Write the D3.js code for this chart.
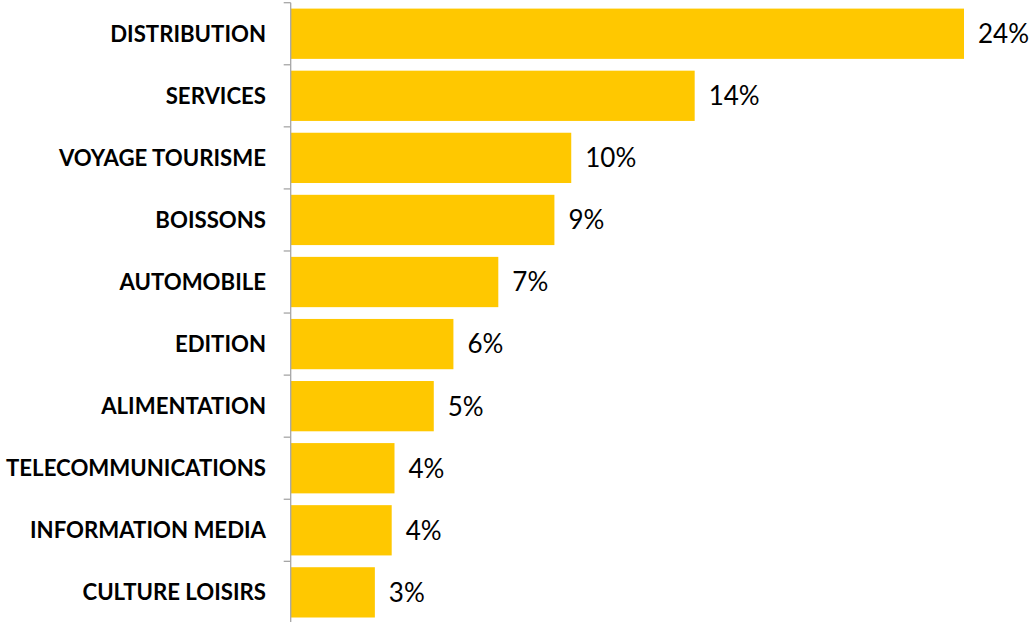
<!DOCTYPE html>
<html>
<head>
<meta charset="utf-8">
<script src="https://cdn.jsdelivr.net/npm/d3@7"></script>
<style>
    body { margin: 0; background: #fff; }
    svg { display: block; }
    .cat { font-family: Lato, "Open Sans", sans-serif; font-weight: 700; font-size: 22.2px; fill: #000; }
    .val { font-family: Lato, "Open Sans", sans-serif; font-size: 26px; fill: #000; }
</style>
</head>
<body>
<svg id="chart"></svg>
<script>
const width = 1033;
const height = 622;

const categories = ["DISTRIBUTION", "SERVICES", "VOYAGE TOURISME", "BOISSONS", "AUTOMOBILE",
    "EDITION", "ALIMENTATION", "TELECOMMUNICATIONS", "INFORMATION MEDIA", "CULTURE LOISIRS"];
const values = [24.0, 14.4, 10.0, 9.4, 7.4, 5.8, 5.1, 3.7, 3.6, 3.0];

const axisX = 290.7;

const svg = d3.select("#chart").attr("width", width).attr("height", height);

const x = d3.scaleLinear().domain([0, 24]).range([axisX, 964]);
const y = d3.scaleBand().domain(categories).range([2.7, 623.4])
    .paddingInner(0.19).paddingOuter(0.095);

// bars
svg.selectAll("rect.bar").data(categories).enter()
    .append("rect")
    .attr("class", "bar")
    .attr("x", x(0))
    .attr("y", function (d) { return y(d); })
    .attr("width", function (d, i) { return x(values[i]) - x(0); })
    .attr("height", y.bandwidth())
    .attr("fill", "#ffc800");

// value labels
svg.selectAll("text.val").data(categories).enter()
    .append("text")
    .attr("class", "val")
    .attr("x", function (d, i) { return x(values[i]) + 14; })
    .attr("y", function (d) { return y(d) + y.bandwidth() / 2; })
    .attr("dy", "0.36em")
    .text(function (d, i) { return d3.format(".0f")(values[i]) + "%"; });

// category labels
svg.selectAll("text.cat").data(categories).enter()
    .append("text")
    .attr("class", "cat")
    .attr("x", 266)
    .attr("y", function (d) { return y(d) + y.bandwidth() / 2; })
    .attr("dy", "0.36em")
    .attr("text-anchor", "end")
    .text(function (d) { return d; });

// axis line with ticks between categories
const axis = svg.append("g").attr("stroke", "#a6a6a6").attr("stroke-width", 1.3);
axis.append("line")
    .attr("x1", axisX).attr("x2", axisX)
    .attr("y1", y.range()[0]).attr("y2", y.range()[1]);
const boundaries = d3.range(categories.length + 1).map(function (i) {
    return y.range()[0] + i * y.step();
});
axis.selectAll("line.tick").data(boundaries).enter()
    .append("line")
    .attr("class", "tick")
    .attr("x1", axisX - 7).attr("x2", axisX)
    .attr("y1", function (d) { return d; })
    .attr("y2", function (d) { return d; });
</script>
</body>
</html>
